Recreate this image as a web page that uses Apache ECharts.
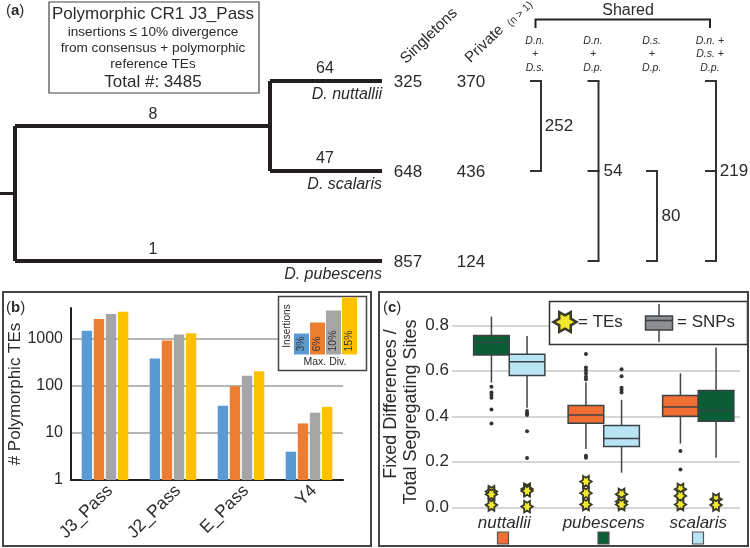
<!DOCTYPE html>
<html lang="en">
<head>
    <meta charset="UTF-8">
    <script src="https://cdn.jsdelivr.net/npm/echarts@6/dist/echarts.min.js"></script>
    <title>Polymorphic TEs</title>
    <style>
        html, body { margin: 0; padding: 0; width: 100%; height: 100%; overflow: hidden; background: #fff; }
        #chart { width: 750px; height: 548px; }
    </style>
</head>
<body>
<div id="chart"></div>
<script>
    // panel (a)
    var taxa = ['D. nuttallii', 'D. scalaris', 'D. pubescens'];
    var singletons = [325, 648, 857];
    var privates = [370, 436, 124];
    var branchCounts = [64, 47, 8, 1];
    var sharedCounts = [252, 54, 80, 219];
    var sharedRows = [[0, 1], [0, 1, 2], [1, 2], [0, 1, 2]];
    var sharedHeads = [['D.n.', '+', 'D.s.'], ['D.n.', '+', 'D.p.'], ['D.s.', '+', 'D.p.'], ['D.n. +', 'D.s. +', 'D.p.']];

    // panel (b)
    var families = ['J3_Pass', 'J2_Pass', 'E_Pass', 'Y4'];
    var div3 = [1500, 383, 38, 4];
    var div6 = [2650, 925, 99, 16];
    var div10 = [3400, 1240, 165, 27];
    var div15 = [3800, 1320, 206, 36];
    var insetLabels = ['3%', '6%', '10%', '15%'];
    var insetHeights = [21, 32, 44, 57];

    // panel (c): low, q1, median, q3, high
    var species = ['nuttallii', 'pubescens', 'scalaris'];
    var leftBoxes = [[0.548, 0.67, 0.725, 0.755, 0.838], [0.256, 0.369, 0.406, 0.447, 0.55], [0.28, 0.4, 0.441, 0.491, 0.589]];
    var rightBoxes = [[0.438, 0.579, 0.64, 0.673, 0.753], [0.152, 0.267, 0.302, 0.36, 0.472], [0.218, 0.378, 0.425, 0.513, 0.702]];
    var leftOutliers = [[0.53, 0.505, 0.494, 0.482, 0.43, 0.368], [0.674, 0.614, 0.602, 0.589, 0.574, 0.563, 0.227, 0.218], [0.248, 0.166]];
    var rightOutliers = [[0.423, 0.413, 0.406, 0.334, 0.217], [0.607, 0.576, 0.526, 0.516, 0.505], []];
    var leftTEs = [[0.069, 0.057, 0.01], [0.113, 0.062, 0.012], [0.079, 0.05, 0.012]];
    var rightTEs = [[0.08, 0.072, 0.003], [0.057, 0.025, 0.012], [0.035, 0.01]];

    var ink = '#231f20';
    var text = '#2b2b2b';
    var font = '"Liberation Sans", Arial, sans-serif';
    var green = '#0b5d36', orange = '#f26f33', blue = '#b9e4f3';
    var leftColors = [green, orange, orange];
    var rightColors = [blue, blue, green];
    var starPath = 'path://M0,-5.8 L5,-8.66 L5,-2.9 L10,0 L5,2.9 L5,8.66 L0,5.8 L-5,8.66 L-5,2.9 L-10,0 L-5,-2.9 L-5,-8.66 Z';

    var myChart = echarts.init(document.getElementById('chart'), null, {renderer: 'canvas'});

    // tree and bracket lines, x runs along the page, y is the taxon row
    function linePath(points, width, color) {
        return {
            type: 'line', xAxisIndex: 0, yAxisIndex: 0, data: points, symbol: 'none', clip: false, silent: true,
            lineStyle: {width: width, color: color, cap: 'butt', join: 'miter'}, z: 3
        };
    }

    function labelColumn(points, fontSize, extra) {
        return {
            type: 'scatter', xAxisIndex: 0, yAxisIndex: 0, symbolSize: 1, clip: false, silent: true, z: 4,
            itemStyle: {color: 'transparent', opacity: 1},
            data: points.map(function (p) {
                return {value: [p[0], p[1]], label: {formatter: String(p[2])}};
            }),
            label: Object.assign({show: true, position: 'inside', color: text, fontSize: fontSize, fontFamily: font}, extra || {})
        };
    }

    var rootRow = 1.25, innerRow = 0.5;
    var treeSeries = [
        linePath([[0, rootRow], [15, rootRow]], 3, ink),
        linePath([[15, innerRow], [15, 2]], 4, ink),
        linePath([[15, innerRow], [270, innerRow]], 4, ink),
        linePath([[270, 0], [270, 1]], 4, ink),
        linePath([[270, 0], [382, 0]], 4, ink),
        linePath([[270, 1], [382, 1]], 4, ink),
        linePath([[15, 2], [382, 2]], 4, ink)
    ];

    var bracketX = [541, 598.5, 657, 716];
    var bracketSeries = [];
    sharedRows.forEach(function (rows, i) {
        var x = bracketX[i];
        bracketSeries.push(linePath([[x, rows[0]], [x, rows[rows.length - 1]]], 2, '#333'));
        rows.forEach(function (r) {
            bracketSeries.push(linePath([[x - 11, r], [x + 1, r]], 2, '#333'));
        });
    });
    var sharedLabelRows = [0.5, 1, 1.5, 1];
    var sharedLabelX = [559, 613, 671, 734];

    var taxonSeries = labelColumn(taxa.map(function (t, i) { return [382, i, t]; }), 16, {
        fontStyle: 'italic', align: 'right', position: 'inside', offset: [0, 14]
    });

    function flatten(groups) {
        var out = [];
        groups.forEach(function (vals, i) {
            vals.forEach(function (v) { out.push([i, v]); });
        });
        return out;
    }

    function renderBox(side, colors) {
        return function (params, api) {
            var cx = api.coord([api.value(0), 0])[0];
            var w = api.size([1, 0])[0] * 0.377;
            var x = cx + side * w / 2;
            var low = api.coord([api.value(0), api.value(1)])[1];
            var q1 = api.coord([api.value(0), api.value(2)])[1];
            var med = api.coord([api.value(0), api.value(3)])[1];
            var q3 = api.coord([api.value(0), api.value(4)])[1];
            var high = api.coord([api.value(0), api.value(5)])[1];
            var edge = '#3a4246';
            return {
                type: 'group',
                children: [
                    {type: 'line', shape: {x1: x, y1: high, x2: x, y2: q3}, style: {stroke: '#444', lineWidth: 1.5}},
                    {type: 'line', shape: {x1: x, y1: q1, x2: x, y2: low}, style: {stroke: '#444', lineWidth: 1.5}},
                    {type: 'rect', shape: {x: x - w / 2, y: q3, width: w, height: q1 - q3}, style: {fill: colors[params.dataIndex], stroke: edge, lineWidth: 1.5}},
                    {type: 'line', shape: {x1: x - w / 2, y1: med, x2: x + w / 2, y2: med}, style: {stroke: edge, lineWidth: 1.5}}
                ]
            };
        };
    }

    function boxSeries(rows, side, colors) {
        return {
            type: 'custom', xAxisIndex: 5, yAxisIndex: 5, silent: true, z: 3,
            encode: {x: 0, y: [1, 2, 3, 4, 5]},
            data: rows.map(function (b, i) { return [i].concat(b); }),
            renderItem: renderBox(side, colors)
        };
    }

    function dotSeries(groups, shift) {
        return {
            type: 'scatter', xAxisIndex: 5, yAxisIndex: 5, data: flatten(groups), symbolSize: 4, symbolOffset: [shift, 0],
            clip: false, silent: true, z: 3, itemStyle: {color: '#333', opacity: 1}
        };
    }

    function starSeries(groups, shift) {
        return {
            type: 'scatter', xAxisIndex: 5, yAxisIndex: 5, data: flatten(groups), symbol: starPath, symbolSize: 11.5, symbolOffset: [shift, 0],
            clip: false, silent: true, z: 4, itemStyle: {color: '#f1e92d', borderColor: '#3a3a2a', borderWidth: 1.8, opacity: 1}
        };
    }

    function famBar(values, color) {
        return {type: 'bar', xAxisIndex: 1, yAxisIndex: 1, data: values, barWidth: 10.4, barGap: '16%', silent: true,
            itemStyle: {color: color}, z: 2};
    }

    function noAxis(extra) {
        return Object.assign({show: false}, extra);
    }

    function pageText(str, x, y, size, extra) {
        return {
            type: 'text', x: x, y: y, z: 20, silent: true, rotation: (extra && extra.rotate || 0) * Math.PI / 180,
            style: {
                text: str, fill: (extra && extra.fill) || text, fontSize: size, fontFamily: font,
                fontStyle: (extra && extra.italic) ? 'italic' : 'normal',
                align: (extra && extra.align) || 'center', verticalAlign: 'middle'
            }
        };
    }

    function panelTag(letter, x, y) {
        return {
            type: 'text', x: x, y: y, z: 20, silent: true,
            style: {
                text: '(' + '{b|' + letter + '}' + ')', fill: text, fontSize: 15, fontFamily: font, align: 'left', verticalAlign: 'middle',
                rich: {b: {fontWeight: 'bold', fontSize: 15, fontFamily: font, fill: text}}
            }
        };
    }

    function frame(x, y, w, h, z, lineWidth) {
        return {type: 'rect', z: z, silent: true, shape: {x: x, y: y, width: w, height: h},
            style: {fill: 'transparent', stroke: '#444', lineWidth: lineWidth}};
    }

    function legendStar(cx, cy, r) {
        var tips = [];
        for (var i = 0; i < 12; i++) {
            var a = i * Math.PI / 6;
            var d = i % 2 === 0 ? r : r * 0.58;
            tips.push([cx + d * Math.cos(a), cy + d * Math.sin(a)]);
        }
        return {type: 'polygon', z: 9, silent: true, shape: {points: tips},
            style: {fill: '#f1e92d', stroke: '#3a3a2a', lineWidth: 2.5}};
    }

    var graphics = [
        // panel frames
        frame(3, 292, 368, 254, 15, 2),
        frame(379, 292, 369, 254, 15, 2),
        // title box of (a)
        {type: 'rect', z: 10, silent: true, shape: {x: 49, y: 2, width: 210, height: 91}, style: {fill: '#fff', stroke: '#444', lineWidth: 1.2}},
        pageText('Polymorphic CR1 J3_Pass', 153, 14.5, 17),
        pageText('insertions ≤ 10% divergence', 153, 32, 13.6),
        pageText('from consensus + polymorphic', 153, 48, 13.6),
        pageText('reference TEs', 153, 64.5, 13.6),
        pageText('Total #: 3485', 153, 82, 17),
        panelTag('a', 6, 11),
        panelTag('b', 6, 308),
        panelTag('c', 383, 308),
        // column heads
        pageText('Singletons', 429, 36, 15.5, {rotate: 44}),
        pageText('Private', 484.5, 44, 15, {rotate: 44}),
        pageText('(n > 1)', 520, 14, 10.5, {rotate: 44}),
        pageText('Shared', 628, 11, 16),
        {type: 'polyline', z: 10, silent: true, shape: {points: [[535.5, 28], [535.5, 19.5], [710, 19.5], [710, 28]]},
            style: {fill: 'none', stroke: '#222', lineWidth: 2}},
        // legend of (b)
        {type: 'rect', z: 5, silent: true, shape: {x: 278.5, y: 296.5, width: 88, height: 74}, style: {fill: '#fff', stroke: '#444', lineWidth: 1.5}},
        pageText('Insertions', 287, 326, 10, {rotate: 90}),
        pageText('Max. Div.', 325, 362, 10.5),
        // legend of (c)
        {type: 'rect', z: 8, silent: true, shape: {x: 549.5, y: 301.5, width: 198, height: 43}, style: {fill: '#fff', stroke: '#333', lineWidth: 1.5}},
        legendStar(565, 322, 11.5),
        pageText('= TEs', 578, 322, 17, {align: 'left'}),
        {type: 'line', z: 9, silent: true, shape: {x1: 659, y1: 304, x2: 659, y2: 342}, style: {stroke: '#444', lineWidth: 1.5}},
        {type: 'rect', z: 9, silent: true, shape: {x: 645.5, y: 316, width: 27, height: 14}, style: {fill: '#8d8f91', stroke: '#3a4246', lineWidth: 1.5}},
        {type: 'line', z: 9, silent: true, shape: {x1: 645.5, y1: 320.5, x2: 672.5, y2: 320.5}, style: {stroke: '#3a4246', lineWidth: 1.5}},
        pageText('= SNPs', 677, 322, 17, {align: 'left'}),
        // species swatches under (c)
        {type: 'rect', z: 9, silent: true, shape: {x: 497.5, y: 532, width: 11, height: 12}, style: {fill: orange, stroke: '#555', lineWidth: 1.2}},
        {type: 'rect', z: 9, silent: true, shape: {x: 598, y: 532, width: 11, height: 12}, style: {fill: green, stroke: '#555', lineWidth: 1.2}},
        {type: 'rect', z: 9, silent: true, shape: {x: 692.5, y: 532, width: 11, height: 12}, style: {fill: blue, stroke: '#555', lineWidth: 1.2}},
        // axis titles of (c)
        pageText('Fixed Differences /', 391, 404, 18, {rotate: 90}),
        pageText('Total Segregating Sites', 411.5, 412, 18, {rotate: 90})
    ];

    // small italic heads over the brackets
    var headX = [535, 593, 651.7, 710];
    var headY = [41, 54.5, 68.5];
    sharedHeads.forEach(function (lines, i) {
        lines.forEach(function (line, j) {
            graphics.push(pageText(line, headX[i], headY[j], 10.5, {italic: true}));
        });
    });

    var option = {
        animation: false,
        backgroundColor: '#fff',
        graphic: {elements: graphics},
        grid: [
            {left: 0, top: 81, width: 750, height: 180},   // tree and brackets
            {left: 71, top: 308, width: 272, height: 172}, // polymorphic TEs
            {left: 293.5, top: 297, width: 64, height: 57.5}, // legend bars of (b)
            {left: 452, top: 325.3, width: 288, height: 182}, // gridlines of (c)
            {left: 462, top: 325.3, width: 283.5, height: 182},
            {left: 462, top: 325.3, width: 283.5, height: 182}
        ],
        xAxis: [
            noAxis({type: 'value', gridIndex: 0, min: 0, max: 750}),
            {
                type: 'category', gridIndex: 1, data: families,
                axisLine: {lineStyle: {color: ink, width: 2}}, axisTick: {show: false},
                axisLabel: {rotate: 45, color: text, fontSize: 17.5, fontFamily: font, margin: 13, interval: 0, padding: [0, -7, 0, 0]}
            },
            noAxis({type: 'category', gridIndex: 2, data: insetLabels}),
            noAxis({type: 'value', gridIndex: 3, min: 0, max: 1}),
            {
                type: 'category', gridIndex: 4,
                data: species.map(function (s, i) {
                    return i === 0 ? {value: s, textStyle: {padding: [0, 10, 0, 0]}} : s;
                }),
                axisLine: {show: false}, axisTick: {show: false},
                axisLabel: {color: text, fontSize: 17, fontFamily: font, fontStyle: 'italic', margin: 7, interval: 0}
            },
            noAxis({type: 'category', gridIndex: 5, data: species})
        ],
        yAxis: [
            noAxis({type: 'value', gridIndex: 0, min: 0, max: 2, inverse: true}),
            {
                type: 'log', gridIndex: 1, min: 1, max: 4570,
                name: '# Polymorphic TEs', nameLocation: 'middle', nameGap: 43, nameRotate: 90,
                nameTextStyle: {color: text, fontSize: 17, fontFamily: font},
                axisLine: {show: true, lineStyle: {color: ink, width: 2}}, axisTick: {show: false}, minorTick: {show: false},
                axisLabel: {
                    color: text, fontSize: 16, fontFamily: font, margin: 8, showMaxLabel: false,
                    formatter: function (v) { return [1, 10, 100, 1000].indexOf(Math.round(v)) >= 0 ? String(Math.round(v)) : ''; }
                },
                splitLine: {show: true, showMaxLine: false, lineStyle: {color: '#b5b5b5', width: 2}}
            },
            noAxis({type: 'value', gridIndex: 2, min: 0, max: 57.5}),
            {
                type: 'value', gridIndex: 3, min: 0, max: 0.8, interval: 0.2,
                axisLine: {show: false}, axisTick: {show: false},
                axisLabel: {color: text, fontSize: 17, fontFamily: font, margin: 3, formatter: function (v) { return v.toFixed(1); }},
                splitLine: {lineStyle: {color: '#c9c9c9', width: 1.5}}
            },
            noAxis({type: 'value', gridIndex: 4, min: 0, max: 0.8}),
            noAxis({type: 'value', gridIndex: 5, min: 0, max: 0.8})
        ],
        series: [].concat(treeSeries, bracketSeries, [
            labelColumn(singletons.map(function (v, i) { return [408, i, v]; }), 17, {offset: [0, 1]}),
            labelColumn(privates.map(function (v, i) { return [471, i, v]; }), 17, {offset: [0, 1]}),
            labelColumn([[325, 0, branchCounts[0]], [325, 1, branchCounts[1]]], 16, {offset: [0, -12]}),
            labelColumn([[153, innerRow, branchCounts[2]], [153, 2, branchCounts[3]]], 16, {offset: [0, -11]}),
            labelColumn(sharedCounts.map(function (v, i) { return [sharedLabelX[i], sharedLabelRows[i], v]; }), 17),
            taxonSeries,
            famBar(div3, '#5b9bd5'), famBar(div6, '#ed7d31'), famBar(div10, '#a5a5a5'), famBar(div15, '#ffc000'),
            {
                type: 'bar', xAxisIndex: 2, yAxisIndex: 2, barCategoryGap: '6%', silent: true, z: 6,
                data: insetHeights.map(function (h, i) {
                    return {value: h, itemStyle: {color: ['#5b9bd5', '#ed7d31', '#a5a5a5', '#ffc000'][i]}};
                }),
                label: {
                    show: true, position: 'insideBottom', rotate: 90, distance: 3, align: 'left', verticalAlign: 'middle',
                    color: '#333', fontSize: 10.5, fontFamily: font,
                    formatter: function (p) { return insetLabels[p.dataIndex]; }
                }
            },
            boxSeries(leftBoxes, -1, leftColors),
            boxSeries(rightBoxes, 1, rightColors),
            dotSeries(leftOutliers, -17.8),
            dotSeries(rightOutliers, 17.8),
            starSeries(leftTEs, -17.8),
            starSeries(rightTEs, 17.8)
        ])
    };
    myChart.setOption(option);
</script>
</body>
</html>
